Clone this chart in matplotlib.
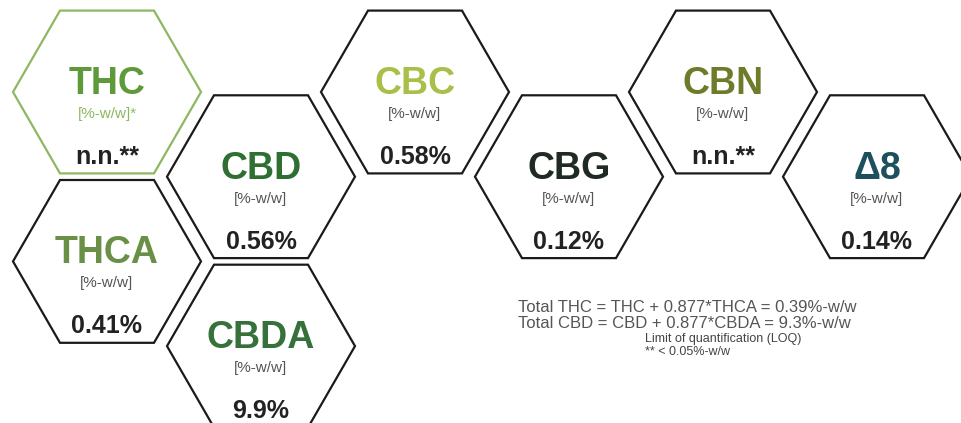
import matplotlib
matplotlib.use("Agg")
import numpy as np
import matplotlib.pyplot as plt
from matplotlib.patches import RegularPolygon

# cannabinoid panel
names = ["THC", "THCA", "CBD", "CBDA", "CBC", "CBG", "CBN", "\u03948"]
units = ["[%-w/w]*", "[%-w/w]", "[%-w/w]", "[%-w/w]", "[%-w/w]", "[%-w/w]", "[%-w/w]", "[%-w/w]"]
values = ["n.n.**", "0.41%", "0.56%", "9.9%", "0.58%", "0.12%", "n.n.**", "0.14%"]
title_colors = ["#5f9a3a", "#6a9048", "#2f6f32", "#36703a", "#a8c04a", "#1f2a22", "#6f7a2a", "#1d4f5c"]

# honeycomb slot of each cell: (column, half-row)
slots = [(0, 0), (0, 2), (1, 1), (1, 3), (2, 0), (3, 1), (4, 0), (5, 1)]

totals = ["Total THC = THC + 0.877*THCA = 0.39%-w/w",
          "Total CBD = CBD + 0.877*CBDA = 9.3%-w/w"]
loq = ["Limit of quantification (LOQ)", "** < 0.05%-w/w"]

plt.rcParams['font.family'] = ['Liberation Sans', 'DejaVu Sans']

fig = plt.figure(figsize=(9.62, 4.23), dpi=100)
ax = fig.add_axes([0, 0, 1, 1])
ax.set_xlim(0, 962)
ax.set_ylim(423, 0)
ax.axis('off')

R = 94
x0, y0, dx, dy = 107, 92, 154, 84.7

for i, name in enumerate(names):
    c, r = slots[i]
    cx = x0 + dx * c
    cy = y0 + dy * r
    edge = "#8db860" if name == "THC" else "#1a1a1a"
    # flat-topped hexagon
    hexa = RegularPolygon((cx, cy), numVertices=6, radius=R, orientation=np.pi / 6,
                          facecolor="white", edgecolor=edge, linewidth=1.6)
    ax.add_patch(hexa)
    ax.text(cx, cy - 8, name, ha='center', va='center', fontsize=27,
            fontweight='bold', color=title_colors[i])
    ucol = "#8db860" if name == "THC" else "#555555"
    ax.text(cx, cy + 22, units[i], ha='center', va='center', fontsize=11, color=ucol)
    ax.text(cx, cy + 65, values[i], ha='center', va='center', fontsize=18,
            fontweight='bold', color="#222222")

ax.text(518, 308, totals[0], ha='left', va='center', fontsize=12, color="#555555")
ax.text(518, 324, totals[1], ha='left', va='center', fontsize=12, color="#555555")
ax.text(645, 339, loq[0], ha='left', va='center', fontsize=9, color="#444444")
ax.text(645, 352, loq[1], ha='left', va='center', fontsize=9, color="#444444")

fig.savefig("out.png", dpi=100, facecolor="white")
